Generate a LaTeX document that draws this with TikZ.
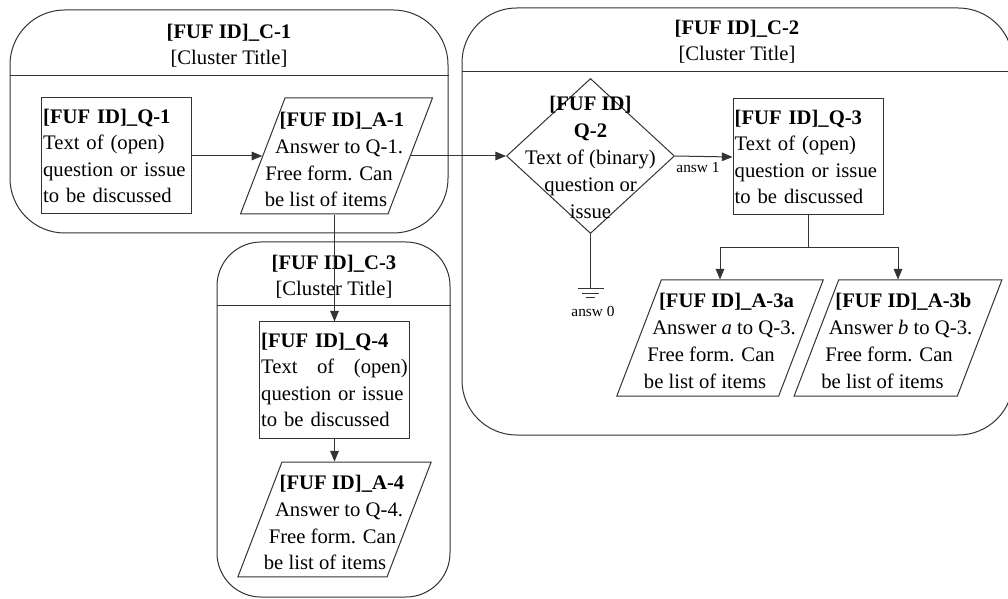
\documentclass[tikz,border=0pt]{standalone}
\usepackage{fontspec}
\setmainfont{Liberation Serif}
\usetikzlibrary{arrows.meta,shapes.geometric}

% a centred line moved sideways by #1 (positive = to the right)
\newcommand\sline[2]{\makebox[0pt][c]{\hspace*{#1}\hspace*{#1}#2}}

\begin{document}
\begin{tikzpicture}[x=0.75pt,y=-0.75pt,
  every node/.style={font=\fontsize{15.5pt}{19.8pt}\selectfont, text=black},
  line/.style={draw=black!80, line width=0.75pt},
  arr/.style={line, -{Triangle[length=8pt,width=6.5pt]}},
  cluster/.style={rectangle, draw=black!80, line width=0.75pt, fill=white, inner sep=0pt},
  title/.style={align=center, inner sep=0pt},
  txt/.style={align=center, inner sep=0pt, font=\fontsize{15.5pt}{20.2pt}\selectfont},
  qbox/.style={rectangle, draw=black!80, line width=0.75pt, fill=white,
    minimum width=112.5pt, minimum height=87pt, text width=110pt,
    inner xsep=1.25pt, inner ysep=2pt, align=left},
  % empty parallelogram: its size comes from the inner separations alone
  abox/.style={trapezium, trapezium left angle=69, trapezium right angle=111,
    draw=black!80, line width=0.75pt, fill=white, inner ysep=43.5pt},
  dbox/.style={diamond, draw=black!80, line width=0.75pt, fill=white, inner sep=0pt,
    minimum width=126pt, minimum height=116.25pt},
  small/.style={font=\fontsize{11.5pt}{13pt}\selectfont, inner sep=0pt}
]
\clip (0,0) rectangle (1008,599);

% clusters
\node[cluster, rounded corners=41pt, minimum width=328.5pt, minimum height=167.25pt]
  (c1) at (229,121.5) {};
\node[cluster, rounded corners=41pt, minimum width=413.25pt, minimum height=320.25pt]
  (c2) at (737.5,221.5) {};
\node[cluster, rounded corners=33pt, minimum width=174.75pt, minimum height=266.25pt]
  (c3) at (333.5,419.5) {};
\draw[line] (c1.west |- 0,76) -- (c1.east |- 0,76);
\draw[line] (c2.west |- 0,72) -- (c2.east |- 0,72);
\draw[line] (c3.west |- 0,306) -- (c3.east |- 0,306);

\node[title] (c1t) at (229,46) {\textbf{[FUF ID]\_C-1}\\{[Cluster Title]}};
\node[title] (c2t) at (737,42) {\textbf{[FUF ID]\_C-2}\\{[Cluster Title]}};
\node[title] (c3t) at (334,277) {\textbf{[FUF ID]\_C-3}\\{[Cluster Title]}};

% questions and answers
\node[qbox] (q1) at (116.5,156) {\textbf{[FUF ID]\_Q-1}\\Text of (open)\\question or issue\\to be discussed};
\node[abox, inner xsep=38.6pt] (a1) at (336.5,156) {};
\node[txt] (a1t) at (336.5,159.5)
  {\sline{4.1pt}{\textbf{[FUF ID]\_A-1}}\\\sline{1.9pt}{Answer to Q-1.}\\
   \sline{-5.6pt}{Free form. Can}\\\sline{-7.9pt}{be list of items}};

\node[dbox] (q2) at (590.5,156) {};
\node[txt, font=\fontsize{15.5pt}{20.3pt}\selectfont] (q2t) at (590.5,157.5)
  {\textbf{[FUF ID]}\\\textbf{Q-2}\\Text of (binary)\\question or\\issue};

\node[qbox] (q3) at (808,157) {\textbf{[FUF ID]\_Q-3}\\Text of (open)\\question or issue\\to be discussed};
\node[abox, inner xsep=44pt] (a3a) at (720,338) {};
\node[txt] (a3at) at (720,341)
  {\sline{4.9pt}{\textbf{[FUF ID]\_A-3a}}\\\sline{3pt}{Answer \textit{a} to Q-3.}\\
   \sline{-6.7pt}{Free form. Can}\\\sline{-11.2pt}{be list of items}};
\node[abox, inner xsep=44.5pt] (a3b) at (898,338) {};
\node[txt] (a3bt) at (898,341)
  {\sline{4.1pt}{\textbf{[FUF ID]\_A-3b}}\\\sline{1.9pt}{Answer \textit{b} to Q-3.}\\
   \sline{-6.7pt}{Free form. Can}\\\sline{-11.6pt}{be list of items}};

\node[qbox] (q4) at (334.5,380) {\textbf{[FUF ID]\_Q-4}\\Text\hfill of\hfill (open)\\question or issue\\to be discussed};
\node[abox, inner xsep=39.4pt, inner ysep=43.1pt] (a4) at (334.5,519.5) {};
\node[txt] (a4t) at (334.5,522.5)
  {\sline{5.6pt}{\textbf{[FUF ID]\_A-4}}\\\sline{3.4pt}{Answer to Q-4.}\\
   \sline{-1.5pt}{Free form. Can}\\\sline{-7.1pt}{be list of items}};

% connectors
\draw[arr] (q1.east) -- (a1.west);
\draw[arr] (a1.east) -- (q2.west);
\draw[arr] (q2.east) -- (q3.west);
\node[small] (l1) at (698,168) {answ 1};

\coordinate (gnd) at (590.5,289);
\draw[line] (q2.south) -- (gnd);
\draw[line] (gnd) ++(-13,0) -- ++(26,0);
\draw[line] (gnd) ++(-8.5,4.5) -- ++(17,0);
\draw[line] (gnd) ++(-4.5,9) -- ++(9,0);
\node[small] (l0) at (593,311) {answ 0};

\coordinate (split) at (808,248);
\draw[line] (q3.south) -- (split);
\draw[arr] (split) -| (a3a.north);
\draw[arr] (split) -| (a3b.north);

\draw[arr] (a1.south -| q4.north) -- (q4.north);
\draw[arr] (q4.south) -- (a4.north -| q4.south);
\end{tikzpicture}
\end{document}
